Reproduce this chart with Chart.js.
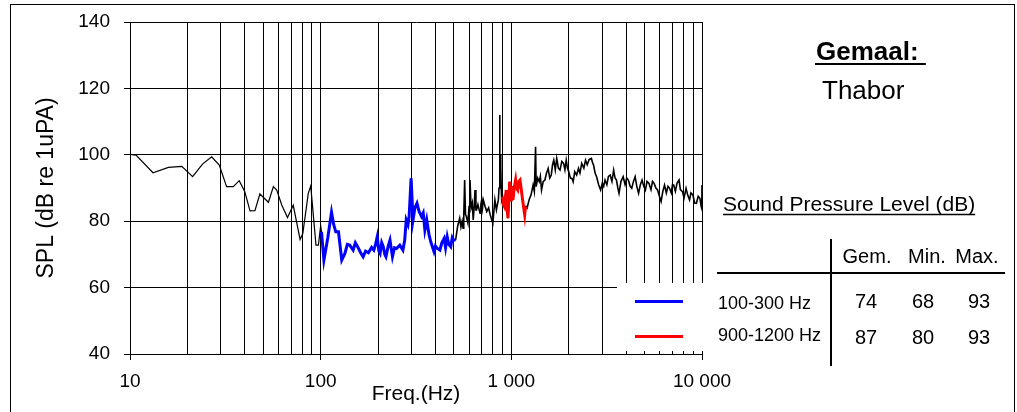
<!DOCTYPE html>
<html>
<head>
<meta charset="utf-8">
<script src="https://cdn.jsdelivr.net/npm/chart.js@4.4.1/dist/chart.umd.min.js"></script>
<style>
  html, body { margin: 0; padding: 0; background: #fff; }
  canvas { display: block; }
</style>
</head>
<body>
<canvas id="splChart" width="1017" height="412"></canvas>
<script>
// spectrum (Hz / dB re 1uPa)
const freqLow = [10, 10.75, 13.2, 15.9, 18.7, 21.3, 24.0, 26.8, 29.4, 32.1, 34.8, 37.4, 40.0, 42.6, 45.2, 48.0, 53.2, 56.5, 58.8, 62.5, 67.0, 71.8, 78.0, 80.6, 86.1, 88.7, 94.5, 97.3, 100];
const splLow = [100.1, 99.9, 94.6, 96.2, 96.5, 93.4, 97.2, 99.4, 96.9, 90.4, 90.4, 92.2, 88.9, 83.1, 83.2, 88.2, 85.7, 90.4, 89.4, 84.9, 81.1, 84.8, 74.5, 76.3, 88.4, 90.6, 72.8, 72.8, 78.6];

const freqBlue = [101, 104, 109, 114, 117, 120, 124, 129, 134, 138, 142, 148, 152, 157, 162, 167, 172, 178, 185, 190, 194, 198, 202, 205, 209, 213, 217, 220, 226, 231, 238, 244, 250, 260, 270, 276, 281, 287, 291, 298, 305, 312, 320, 328, 338, 345, 352, 360, 370, 378, 393, 400, 409, 422, 432, 444, 452, 461, 470, 481, 490, 497, 510];
const splBlue = [76.8, 68.3, 75.0, 82.7, 79.0, 76.8, 76.8, 68.3, 70.3, 73.0, 72.8, 71.3, 73.5, 72.1, 70.5, 69.3, 71.0, 70.5, 72.1, 71.3, 73.0, 75.3, 71.0, 70.3, 73.5, 72.3, 70.0, 69.3, 72.5, 74.3, 69.3, 72.0, 71.8, 72.8, 71.3, 74.3, 80.4, 79.0, 81.4, 92.9, 80.4, 84.0, 85.4, 83.0, 81.4, 82.5, 77.4, 80.4, 76.0, 73.8, 70.8, 72.5, 71.8, 71.3, 73.5, 74.8, 72.0, 75.3, 73.0, 72.3, 75.0, 74.3, 74.3];

const freqMid = [523, 536, 544, 552, 558, 563, 569, 575, 581, 592, 600, 607, 615, 624, 631, 638, 645, 652, 657, 668, 685, 692, 699, 706, 713, 728, 743, 760, 775, 788, 800, 810, 820, 835, 845, 855, 862, 868, 872, 876, 880, 885, 890];
const splMid = [78.5, 80.9, 78.3, 80.0, 77.9, 81.4, 92.4, 82.0, 81.4, 79.4, 84.4, 92.4, 84.0, 85.5, 80.4, 84.0, 89.4, 83.4, 83.4, 85.0, 82.4, 85.0, 86.4, 84.0, 86.4, 84.5, 82.9, 84.0, 81.9, 80.5, 79.4, 83.0, 86.4, 83.4, 85.0, 86.4, 90.0, 112, 90.0, 100, 96.4, 90.0, 86.4];

const freqRed = [900, 910, 920, 930, 940, 950, 960, 970, 980, 990, 1000, 1010, 1020, 1035, 1053, 1065, 1080, 1095, 1110, 1125, 1140, 1155, 1175, 1185, 1195];
const splRed = [87.4, 85.0, 84.4, 87.0, 89.4, 84.0, 80.9, 86.0, 91.9, 88.0, 86.0, 90.5, 86.4, 90.0, 92.4, 90.0, 89.4, 92.0, 92.4, 90.0, 87.4, 85.0, 81.9, 84.0, 84.4];

const freqHigh = [1210, 1240, 1270, 1300, 1320, 1340, 1350, 1375, 1400, 1420, 1440, 1470, 1500, 1530, 1560, 1590, 1620, 1645, 1670, 1700, 1730, 1765, 1800, 1840, 1880, 1910, 1940, 1970, 2000, 2040, 2080, 2110, 2150, 2200, 2250, 2290, 2340, 2400, 2450, 2500, 2560, 2630, 2670, 2700, 2750, 2800, 2870, 2940, 3000, 3050, 3100, 3170, 3230, 3300, 3370, 3440, 3500, 3560, 3620, 3670, 3760, 3860, 3950, 4030, 4110, 4200, 4280, 4370, 4460, 4550, 4650, 4750, 4850, 4950, 5050, 5150, 5270, 5400, 5500, 5610, 5730, 5850, 5980, 6100, 6230, 6360, 6500, 6630, 6760, 6900, 7000, 7100, 7250, 7400, 7580, 7700, 7900, 8050, 8250, 8400, 8600, 8750, 8960, 9150, 9350, 9550, 9750, 9900, 9970, 10000];
const splHigh = [84.0, 86.5, 88.0, 90.9, 89.0, 102.4, 90.4, 93.0, 91.9, 93.5, 89.4, 92.0, 92.4, 94.5, 95.9, 93.0, 93.9, 97.0, 98.4, 95.5, 98.9, 96.0, 95.4, 98.0, 97.4, 95.5, 98.4, 96.0, 94.9, 93.0, 92.9, 91.9, 94.9, 93.9, 95.9, 94.5, 97.4, 96.0, 98.4, 97.0, 98.6, 98.9, 97.5, 96.9, 94.5, 93.4, 91.0, 89.4, 91.5, 90.5, 92.4, 91.0, 93.5, 93.9, 92.0, 95.4, 93.0, 92.4, 90.0, 88.4, 92.0, 93.4, 91.0, 93.0, 92.4, 90.5, 89.9, 92.0, 93.4, 90.5, 88.4, 91.0, 92.4, 90.5, 89.4, 92.0, 91.4, 89.5, 92.0, 91.4, 90.0, 89.4, 87.5, 85.9, 89.0, 90.9, 88.5, 90.5, 89.9, 88.5, 91.0, 90.9, 89.0, 91.5, 92.4, 89.5, 88.9, 87.0, 89.9, 88.0, 86.4, 88.5, 87.9, 85.5, 85.4, 87.5, 86.9, 84.5, 83.9, 90.9];

// axes
const xGridValues = [10, 20, 30, 40, 50, 60, 70, 80, 90, 100, 200, 300, 400, 500, 600, 700, 800, 900, 1000, 2000, 3000, 4000, 5000, 6000, 7000, 8000, 9000, 10000];
const xMajor = [10, 100, 1000, 10000];
const xMajorLabels = ['10', '100', '1 000', '10 000'];

// summary table
const bandLabels = ['100-300 Hz', '900-1200 Hz'];
const bandColors = ['#0000ff', '#ff0000'];
const tableHeads = ['Gem.', 'Min.', 'Max.'];
const gemValues = [74, 87];
const minValues = [68, 80];
const maxValues = [93, 93];

const FONT = '"Liberation Sans", Arial, sans-serif';

const toPoints = (fs, vs) => fs.map((f, i) => ({ x: f, y: vs[i] }));
const blackPts = [].concat(
    toPoints(freqLow, splLow), toPoints(freqBlue, splBlue), toPoints(freqMid, splMid),
    toPoints(freqRed, splRed), toPoints(freqHigh, splHigh)
);

const annotate = {
    id: 'annotate',
    beforeDraw(chart) {
        const c = chart.ctx;
        c.save();
        c.fillStyle = '#fff';
        c.fillRect(0, 0, chart.width, chart.height);
        c.strokeStyle = '#000';
        c.lineWidth = 1;
        c.strokeRect(10.5, 4.5, 1004, 430);
        c.restore();
    },
    afterDatasetsDraw(chart) {
        const c = chart.ctx;
        c.save();
        // legend area hides the grid
        c.fillStyle = '#fff';
        c.fillRect(617, 283, 90, 68);
        c.lineWidth = 3;
        bandColors.forEach((col, i) => {
            c.strokeStyle = col;
            c.beginPath();
            c.moveTo(635, 301.5 + i * 35);
            c.lineTo(683, 301.5 + i * 35);
            c.stroke();
        });

        c.fillStyle = '#000';
        c.strokeStyle = '#000';
        c.textBaseline = 'alphabetic';
        c.textAlign = 'left';

        c.font = 'bold 26px ' + FONT;
        c.fillText('Gemaal:', 816, 60);
        c.lineWidth = 2;
        c.beginPath();
        c.moveTo(815, 64);
        c.lineTo(816 + c.measureText('Gemaal: ').width, 64);
        c.stroke();

        c.font = '26px ' + FONT;
        c.fillText('Thabor', 822, 99);

        c.font = '21px ' + FONT;
        const spl = 'Sound Pressure Level (dB)';
        c.fillText(spl, 723, 211);
        c.lineWidth = 1.5;
        c.beginPath();
        c.moveTo(723, 214.5);
        c.lineTo(723 + c.measureText(spl).width, 214.5);
        c.stroke();

        // table lines
        c.lineWidth = 2;
        c.beginPath();
        c.moveTo(717, 273);
        c.lineTo(1005, 273);
        c.moveTo(831, 239);
        c.lineTo(831, 366);
        c.stroke();

        c.font = '20px ' + FONT;
        c.textAlign = 'center';
        const headX = [867, 927, 977];
        tableHeads.forEach((h, i) => c.fillText(h, headX[i], 263));

        const colX = [866, 923, 979];
        const rowY = [308, 344];
        bandLabels.forEach((lab, r) => {
            c.font = '18px ' + FONT;
            c.textAlign = 'left';
            c.fillText(lab, 718, r === 0 ? 309 : 341);
            c.font = '20px ' + FONT;
            c.textAlign = 'center';
            [gemValues[r], minValues[r], maxValues[r]].forEach((v, k) => c.fillText(String(v), colX[k], rowY[r]));
        });
        c.restore();
    }
};

new Chart(document.getElementById('splChart'), {
    type: 'line',
    data: {
        datasets: [{
            label: bandLabels[0],
            data: toPoints(freqBlue, splBlue),
            borderColor: bandColors[0],
            borderWidth: 3
        }, {
            label: bandLabels[1],
            data: toPoints(freqRed, splRed),
            borderColor: bandColors[1],
            borderWidth: 3
        }, {
            label: 'SPL',
            data: blackPts,
            borderColor: '#000',
            borderWidth: 1.2,
            // the dense high-frequency part looks heavier in the original
            segment: { borderWidth: (ctx) => ctx.p0.parsed.x >= 500 ? 1.6 : 1.2 }
        }]
    },
    options: {
        responsive: false,
        animation: false,
        events: [],
        layout: { padding: { top: 22, right: 315, left: 0, bottom: 0 } },
        elements: {
            point: { radius: 0 },
            line: { tension: 0, fill: false }
        },
        scales: {
            x: {
                type: 'logarithmic',
                min: 10,
                max: 10000,
                afterFit: (s) => { s.height = 58; },
                afterBuildTicks: (s) => { s.ticks = xGridValues.map(v => ({ value: v })); },
                grid: {
                    color: '#000',
                    lineWidth: 1,
                    tickLength: 6,
                    tickColor: (ctx) => (ctx.tick && xMajor.includes(ctx.tick.value)) ? '#000' : 'rgba(0,0,0,0)'
                },
                border: { color: '#000', width: 1 },
                ticks: {
                    autoSkip: false,
                    maxRotation: 0,
                    padding: 10,
                    color: '#000',
                    font: { family: FONT, size: 19 },
                    callback: (value) => {
                        const i = xMajor.indexOf(value);
                        return i >= 0 ? xMajorLabels[i] : '';
                    }
                },
                title: {
                    display: true,
                    text: 'Freq.(Hz)',
                    color: '#000',
                    font: { family: FONT, size: 21 },
                    padding: { top: 0, bottom: 5 }
                }
            },
            y: {
                min: 40,
                max: 140,
                afterFit: (s) => { s.width = 130; s.paddingTop = 11; s.paddingBottom = 11; },
                grid: { color: '#000', lineWidth: 1, tickLength: 6, tickColor: '#000' },
                border: { color: '#000', width: 1 },
                ticks: {
                    stepSize: 20,
                    padding: 14,
                    color: '#000',
                    font: { family: FONT, size: 19 }
                },
                title: {
                    display: true,
                    text: 'SPL (dB re 1uPA)',
                    color: '#000',
                    font: { family: FONT, size: 23 },
                    padding: { top: 33, bottom: 0 }
                }
            }
        },
        plugins: {
            legend: { display: false },
            tooltip: { enabled: false }
        }
    },
    plugins: [annotate]
});
</script>
</body>
</html>
